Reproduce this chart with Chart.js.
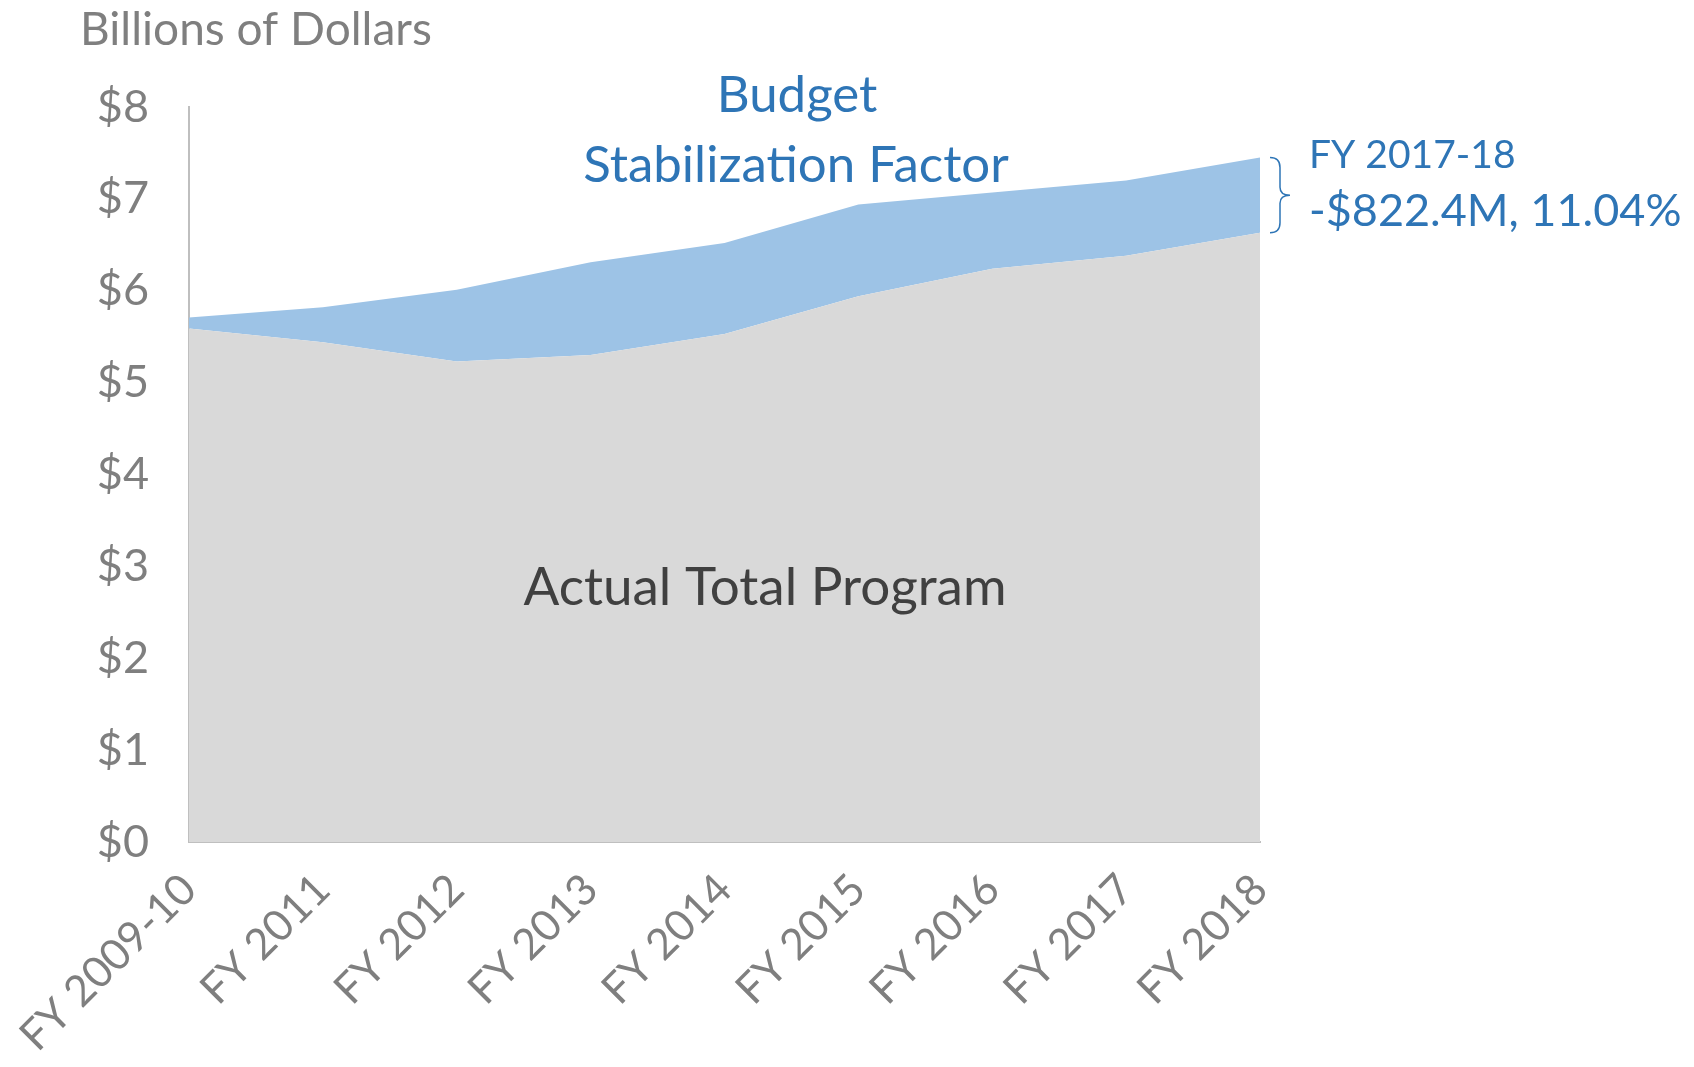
<!DOCTYPE html>
<html>
<head>
<meta charset="utf-8">
<script src="https://cdn.jsdelivr.net/npm/chart.js@4.4.1/dist/chart.umd.min.js"></script>
<style>
  html, body { margin: 0; padding: 0; background: #fff; }
  #wrap { width: 1694px; height: 1067px; }
</style>
</head>
<body>
<div id="wrap"><canvas id="myChart" width="1694" height="1067"></canvas></div>
<script>
// Fiscal years on the x axis
var years = ['FY 2009-10', 'FY 2011', 'FY 2012', 'FY 2013', 'FY 2014', 'FY 2015', 'FY 2016', 'FY 2017', 'FY 2018'];
// Billions of dollars
var actualTotal = [5.59, 5.44, 5.23, 5.30, 5.53, 5.94, 6.24, 6.38, 6.63];
var stabilizationFactor = [0.12, 0.38, 0.78, 1.01, 0.99, 1.00, 0.83, 0.82, 0.82];
var yTicks = [0, 1, 2, 3, 4, 5, 6, 7, 8];

var fontFamily = 'Lato, "Noto Sans", sans-serif';
var gray = '#7f7f7f';
var blue = '#2e75b6';

// Text labels and the brace next to the last year
var labelsPlugin = {
  id: 'labels',
  afterDraw: function (chart) {
    var ctx = chart.ctx;
    var y = chart.scales.y;
    var x = chart.scales.x;
    ctx.save();

    ctx.fillStyle = gray;
    ctx.font = '46px ' + fontFamily;
    ctx.textAlign = 'left';
    ctx.textBaseline = 'middle';
    ctx.fillText('Billions of Dollars', 80, 30);

    ctx.fillStyle = blue;
    ctx.font = '51px ' + fontFamily;
    ctx.textAlign = 'center';
    ctx.fillText('Budget', 797, 96);
    ctx.fillText('Stabilization Factor', 796, 166);

    ctx.fillStyle = '#404040';
    ctx.font = '53px ' + fontFamily;
    ctx.fillText('Actual Total Program', 765, 588);

    // brace
    var last = years.length - 1;
    var yTop = y.getPixelForValue(actualTotal[last] + stabilizationFactor[last]);
    var yBot = y.getPixelForValue(actualTotal[last]);
    var yMid = (yTop + yBot) / 2;
    var bx = x.getPixelForValue(last) + 10;
    ctx.strokeStyle = blue;
    ctx.lineWidth = 1.5;
    ctx.beginPath();
    ctx.moveTo(bx, yTop);
    ctx.quadraticCurveTo(bx + 10, yTop, bx + 10, yTop + 10);
    ctx.lineTo(bx + 10, yMid - 8);
    ctx.quadraticCurveTo(bx + 10, yMid, bx + 20, yMid);
    ctx.quadraticCurveTo(bx + 10, yMid, bx + 10, yMid + 8);
    ctx.lineTo(bx + 10, yBot - 10);
    ctx.quadraticCurveTo(bx + 10, yBot, bx, yBot);
    ctx.stroke();

    ctx.fillStyle = blue;
    ctx.textAlign = 'left';
    ctx.font = '39px ' + fontFamily;
    ctx.fillText('FY 2017-18', 1309, 155);
    ctx.font = '45px ' + fontFamily;
    ctx.fillText('-$822.4M, 11.04%', 1309, 211);

    ctx.restore();
  }
};

var ctx = document.getElementById('myChart').getContext('2d');
var myChart = new Chart(ctx, {
  type: 'line',
  data: {
    labels: years,
    datasets: [
      {
        label: 'Actual Total Program',
        data: actualTotal,
        fill: 'origin',
        backgroundColor: '#d9d9d9',
        borderWidth: 0,
        pointRadius: 0,
        tension: 0
      },
      {
        label: 'Budget Stabilization Factor',
        data: stabilizationFactor,
        fill: '-1',
        backgroundColor: '#9dc3e6',
        borderWidth: 0,
        pointRadius: 0,
        tension: 0
      }
    ]
  },
  options: {
    responsive: false,
    animation: false,
    layout: { padding: { left: 0, right: 434, top: 107, bottom: 0 } },
    plugins: {
      legend: { display: false },
      tooltip: { enabled: false }
    },
    scales: {
      x: {
        offset: false,
        grid: { display: false, drawTicks: false },
        border: { display: true, color: '#bfbfbf', width: 2 },
        ticks: {
          color: gray,
          font: { family: fontFamily, size: 43 },
          maxRotation: 45,
          minRotation: 45,
          padding: 22,
          autoSkip: false
        },
        afterFit: function (scale) { scale.height = 225; }
      },
      y: {
        stacked: true,
        min: 0,
        max: 8,
        grid: { display: false, drawTicks: false },
        border: { display: true, color: '#bfbfbf', width: 2 },
        afterBuildTicks: function (scale) {
          scale.ticks = yTicks.map(function (v) { return { value: v }; });
        },
        ticks: {
          color: gray,
          font: { family: fontFamily, size: 45 },
          padding: 40,
          callback: function (v) { return '$' + v; }
        },
        afterFit: function (scale) { scale.width = 189; }
      }
    }
  },
  plugins: [labelsPlugin]
});
</script>
</body>
</html>
